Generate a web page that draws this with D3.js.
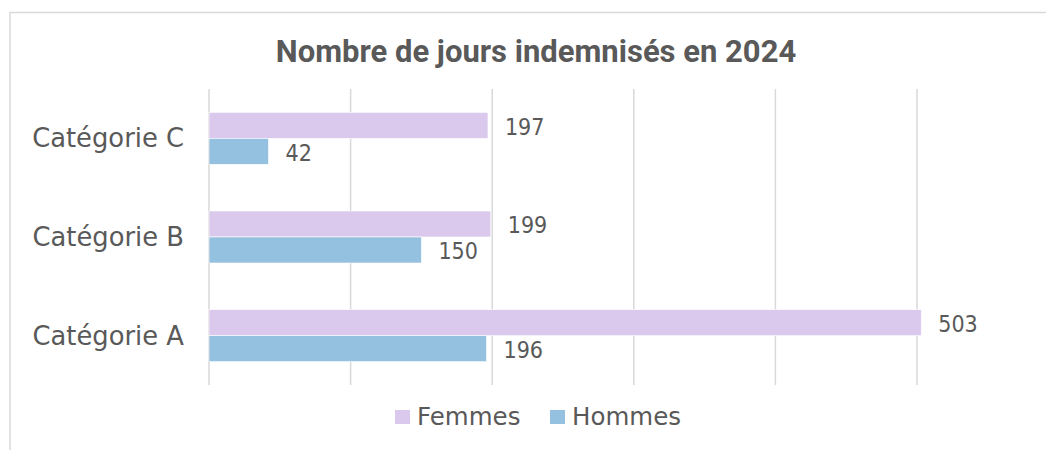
<!DOCTYPE html>
<html lang="fr">
<head>
<meta charset="UTF-8">
<script src="https://d3js.org/d3.v7.min.js"></script>
<style>
  body { margin: 0; background: #fff; }
  text { fill: #595959; }
</style>
</head>
<body>
<div id="chart"></div>
<script>
// data
const categories = ["Catégorie C", "Catégorie B", "Catégorie A"];
const seriesNames = ["Femmes", "Hommes"];
const femmes = [197, 199, 503];
const hommes = [42, 150, 196];
const xTicks = [0, 100, 200, 300, 400, 500];
const colors = ["#dac9ed", "#94c1e0"];

const W = 1046, H = 450;
const svg = d3.select("#chart").append("svg")
  .attr("width", W).attr("height", H);

// chart border
svg.append("rect")
  .attr("x", 10).attr("y", 12.5)
  .attr("width", 1040).attr("height", 450)
  .attr("fill", "none").attr("stroke", "#d9d9d9").attr("stroke-width", 1.5);

const m = {left: 209, right: 917, top: 89, bottom: 385};

const x = d3.scaleLinear().domain([0, 500]).range([m.left, m.right]);
const y = d3.scaleBand().domain(categories).range([m.top, m.bottom]).paddingInner(0.473).paddingOuter(0.2365);
const y1 = d3.scaleBand().domain(seriesNames).range([0, y.bandwidth()]);

svg.append("text")
  .attr("x", 536).attr("y", 62)
  .attr("text-anchor", "middle")
  .style("font-family", "Roboto, Arial, sans-serif")
  .style("font-weight", "bold")
  .style("font-size", "31px")
  .text("Nombre de jours indemnisés en 2024");

// grid
svg.append("g").selectAll("line")
  .data(xTicks).enter().append("line")
  .attr("x1", d => x(d)).attr("x2", d => x(d))
  .attr("y1", m.top).attr("y2", m.bottom)
  .attr("stroke", "#d9d9d9").attr("stroke-width", 1.5);

const rows = categories.map((c, i) => ({cat: c, vals: [femmes[i], hommes[i]]}));

const g = svg.append("g").selectAll("g")
  .data(rows).enter().append("g")
  .attr("transform", d => "translate(0," + y(d.cat) + ")");

g.selectAll("rect")
  .data(d => d.vals.map((v, j) => ({name: seriesNames[j], v: v, j: j})))
  .enter().append("rect")
  .attr("x", x(0))
  .attr("y", d => y1(d.name))
  .attr("width", d => x(d.v) - x(0))
  .attr("height", y1.bandwidth())
  .attr("fill", d => colors[d.j])
  .attr("stroke", "#fff").attr("stroke-width", 0.6);

g.selectAll("text.val")
  .data(d => d.vals.map((v, j) => ({name: seriesNames[j], v: v})))
  .enter().append("text")
  .attr("class", "val")
  .attr("x", d => x(d.v) + 17)
  .attr("y", d => y1(d.name) + y1.bandwidth() / 2 + 9.5)
  .style("font-family", "'Century Gothic', 'DejaVu Sans Condensed', sans-serif")
  .style("font-size", "23px")
  .text(d => d.v);

// category labels
svg.append("g").selectAll("text")
  .data(categories).enter().append("text")
  .attr("x", 184)
  .attr("y", d => y(d) + y.bandwidth() / 2 + 9)
  .attr("text-anchor", "end")
  .style("font-family", "'Century Gothic', 'DejaVu Sans', sans-serif")
  .style("font-size", "25.8px")
  .text(d => d);

// legend
const legX = [395, 550];
const leg = svg.append("g").selectAll("g")
  .data(seriesNames).enter().append("g")
  .attr("transform", (d, i) => "translate(" + legX[i] + ",410)");
leg.append("rect").attr("width", 15).attr("height", 14)
  .attr("fill", (d, i) => colors[i]);
leg.append("text").attr("x", 22).attr("y", 15)
  .style("font-family", "'Century Gothic', 'DejaVu Sans', sans-serif")
  .style("font-size", "24.5px")
  .text(d => d);
</script>
</body>
</html>
